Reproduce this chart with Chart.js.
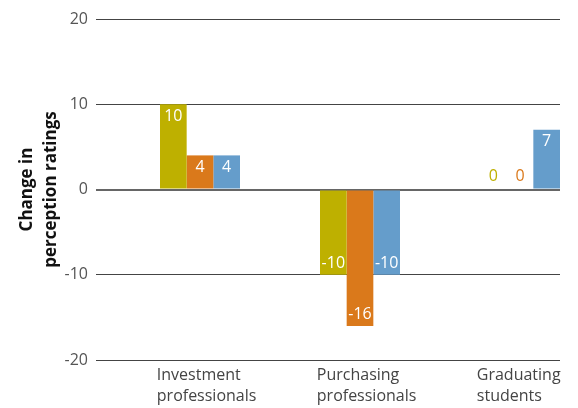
<!DOCTYPE html>
<html>
<head>
<meta charset="utf-8">
<script src="https://cdn.jsdelivr.net/npm/chart.js@4.4.1/dist/chart.umd.min.js"></script>
<style>
  html, body { margin: 0; padding: 0; background: #fff; }
  #wrap { width: 578px; height: 408px; position: relative; }
</style>
</head>
<body>
<div id="wrap"><canvas id="chart"></canvas></div>
<script>
const categories = [["Investment", "professionals"], ["Purchasing", "professionals"], ["Graduating", "students"]];
const seriesOlive = [10, -10, 0];
const seriesOrange = [4, -16, 0];
const seriesBlue = [4, -10, 7];
const yTicks = [-20, -10, 0, 10, 20];
const axisTitle = ["Change in", "perception ratings"];

const FONT = "'Open Sans', 'DejaVu Sans', sans-serif";
const LABEL_SHIFT = -0.27; // category labels sit left-aligned a bit left of the group centre

const toPoints = (arr) => arr.map((v, i) => ({x: i, y: v}));

// --- value labels inside the bars ---
const valueLabels = {
  id: "valueLabels",
  afterDatasetsDraw(chart) {
    const { ctx } = chart;
    ctx.save();
    ctx.font = "16px " + FONT;
    ctx.textAlign = "center";
    ctx.textBaseline = "middle";
    chart.data.datasets.forEach((ds, i) => {
      const meta = chart.getDatasetMeta(i);
      meta.data.forEach((el, j) => {
        const v = ds.data[j].y;
        let y;
        if (v > 0) { y = el.y + 12; ctx.fillStyle = "#fff"; }
        else if (v < 0) { y = el.y - 11; ctx.fillStyle = "#fff"; }
        else { y = el.base - 13; ctx.fillStyle = ds.backgroundColor; }
        ctx.fillText(String(v), el.x, y);
      });
    });
    ctx.restore();
  }
};

new Chart(document.getElementById("chart"), {
  type: "bar",
  data: {
    datasets: [
      {data: toPoints(seriesOlive), backgroundColor: "#beb000"},
      {data: toPoints(seriesOrange), backgroundColor: "#da791b"},
      {data: toPoints(seriesBlue), backgroundColor: "#659dcb"}
    ]
  },
  options: {
    responsive: true,
    maintainAspectRatio: false,
    animation: false,
    layout: { padding: { top: 19, right: 18, left: 0, bottom: 0 } },
    datasets: { bar: { categoryPercentage: 0.5, barPercentage: 1, borderWidth: 0 } },
    plugins: { legend: { display: false }, tooltip: { enabled: false } },
    scales: {
      x: {
        type: "linear",
        offset: false, // bar default would add half a step on each side
        min: -0.65,
        max: 2.25,
        grid: { display: false, drawTicks: false, offset: false },
        border: { display: false },
        afterBuildTicks: (axis) => { axis.ticks = categories.map((c, i) => ({value: i + LABEL_SHIFT})); },
        afterFit: (axis) => { axis.height = 48; },
        ticks: {
          align: "start",
          maxRotation: 0,
          autoSkip: false,
          padding: 5,
          color: "#444",
          font: { family: FONT, size: 16, lineHeight: 1.3 },
          callback: (v, idx) => categories[idx]
        }
      },
      y: {
        min: -20,
        max: 20,
        afterBuildTicks: (axis) => { axis.ticks = yTicks.map(v => ({value: v})); },
        afterFit: (axis) => { axis.width = 96; },
        grid: {
          drawTicks: false,
          color: (c) => c.tick && c.tick.value === 0 ? "#666" : "#444",
          lineWidth: (c) => c.tick && c.tick.value === 0 ? 2 : 1
        },
        border: { display: false },
        ticks: {
          padding: 8,
          color: "#555",
          font: { family: FONT, size: 16 }
        },
        title: {
          display: true,
          text: axisTitle,
          color: "#111",
          padding: { top: 15 },
          font: { family: FONT, size: 17, weight: "bold", lineHeight: 1.4 }
        }
      }
    }
  },
  plugins: [valueLabels]
});
</script>
</body>
</html>
